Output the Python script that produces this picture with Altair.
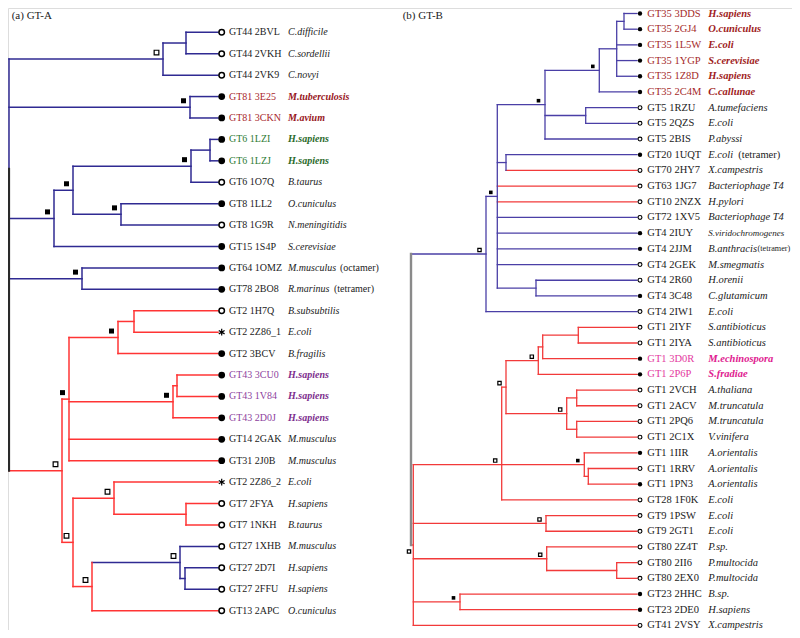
import altair as alt
import pandas as pd

# ---------------- data: panel (a) GT-A, leaves top to bottom ----------------
A_family = ["GT44", "GT44", "GT44", "GT81", "GT81", "GT6", "GT6", "GT6", "GT8", "GT8", "GT15", "GT64", "GT78",
            "GT2", "GT2", "GT2", "GT43", "GT43", "GT43", "GT14", "GT31", "GT2", "GT7", "GT7", "GT27", "GT27",
            "GT27", "GT13"]
A_pdb = ["2BVL", "2VKH", "2VK9", "3E25", "3CKN", "1LZI", "1LZJ", "1O7Q", "1LL2", "1G9R", "1S4P", "1OMZ", "2BO8",
         "1H7Q", "2Z86_1", "3BCV", "3CU0", "1V84", "2D0J", "2GAK", "2J0B", "2Z86_2", "2FYA", "1NKH", "1XHB",
         "2D7I", "2FFU", "2APC"]
A_species = ["C.difficile", "C.sordellii", "C.novyi", "M.tuberculosis", "M.avium", "H.sapiens", "H.sapiens",
             "B.taurus", "O.cuniculus", "N.meningitidis", "S.cerevisiae", "M.musculus", "R.marinus",
             "B.subsubtilis", "E.coli", "B.fragilis", "H.sapiens", "H.sapiens", "H.sapiens", "M.musculus",
             "M.musculus", "E.coli", "H.sapiens", "B.taurus", "M.musculus", "H.sapiens", "H.sapiens", "O.cuniculus"]
A_note = [""] * 11 + ["(octamer)", "(tetramer)"] + [""] * 15
A_tip = ["o", "o", "o", "f", "f", "f", "f", "o", "f", "o", "f", "f", "f", "o", "*", "f", "f", "f", "f", "f", "f",
         "*", "o", "o", "o", "o", "o", "o"]
A_hl = ["", "", "", "red", "red", "green", "green", "", "", "", "", "", "", "", "", "", "purple", "purple",
        "purple", "", "", "", "", "", "", "", "", ""]
A_branch = ["b"] * 13 + ["r"] * 11 + ["b"] * 3 + ["r"]

# ---------------- data: panel (b) GT-B ----------------
B_family = ["GT35"] * 6 + ["GT5"] * 3 + ["GT20", "GT70", "GT63", "GT10", "GT72"] + ["GT4"] * 6 + ["GT1"] * 11 + \
           ["GT28", "GT9", "GT9", "GT80", "GT80", "GT80", "GT23", "GT23", "GT41"]
B_pdb = ["3DDS", "2GJ4", "1L5W", "1YGP", "1Z8D", "2C4M", "1RZU", "2QZS", "2BIS", "1UQT", "2HY7", "1JG7", "2NZX",
         "1XV5", "2IUY", "2JJM", "2GEK", "2R60", "3C48", "2IW1", "2IYF", "2IYA", "3D0R", "2P6P", "2VCH", "2ACV",
         "2PQ6", "2C1X", "1IIR", "1RRV", "1PN3", "1F0K", "1PSW", "2GT1", "2Z4T", "2II6", "2EX0", "2HHC", "2DE0",
         "2VSY"]
B_species = ["H.sapiens", "O.cuniculus", "E.coli", "S.cerevisiae", "H.sapiens", "C.callunae", "A.tumefaciens",
             "E.coli", "P.abyssi", "E.coli", "X.campestris", "Bacteriophage T4", "H.pylori", "Bacteriophage T4",
             "S.viridochromogenes", "B.anthracis", "M.smegmatis", "H.orenii", "C.glutamicum", "E.coli",
             "S.antibioticus", "S.antibioticus", "M.echinospora", "S.fradiae", "A.thaliana", "M.truncatula",
             "M.truncatula", "V.vinifera", "A.orientalis", "A.orientalis", "A.orientalis", "E.coli", "E.coli",
             "E.coli", "P.sp.", "P.multocida", "P.multocida", "B.sp.", "H.sapiens", "X.campestris"]
B_note = [""] * 9 + ["(tetramer)"] + [""] * 5 + ["(tetramer)"] + [""] * 24
B_tip = ["f"] * 6 + ["o"] * 3 + ["f", "o", "o", "o", "o", "f", "f", "o", "o", "f", "o", "o", "o", "f", "f",
                                  "o", "o", "o", "o", "f", "o", "f", "o", "o", "o", "o", "o", "o", "f", "f", "o"]
B_hl = ["darkred"] * 6 + [""] * 16 + ["magenta", "magenta"] + [""] * 16
B_branch = ["b"] * 10 + ["r"] * 3 + ["b"] * 7 + ["r"] * 20


# ---------------- tree topology with branch positions ----------------
def N(x, c, m, kids, mid=None, moff=None):
    return dict(x=x, c=c, m=m, kids=kids, mid=mid, moff=moff)


A_tree = N(9, "root", None, [
    N(9, "b", None, [
        N(163, "b", "o", [N(186, "b", None, [0, 1]), 2]),
        N(190, "b", "f", [3, 4]),
        N(54, "b", "f", [
            N(73, "b", "f", [
                N(191, "b", "f", [N(210, "b", None, [5, 6]), 7]),
                N(121, "b", "f", [8, 9])]),
            10]),
        N(82, "b", "f", [11, 12])]),
    N(62, "r", "o", [
        N(69, "r", "f", [
            N(118, "r", "f", [N(134, "r", None, [13, 14]), 15]),
            N(173, "r", "f", [N(177, "r", None, [16, 17]), 18]),
            19, 20]),
        N(73, "r", "o", [
            N(114, "r", "o", [21, N(186, "r", None, [22, 23])]),
            N(92, "r", "o", [
                N(180, "b", "o", [24, N(185, "b", None, [25, 26])]),
                27])])])
])

B_tree = N(411, "root", None, [
    N(486, "b", "o", [
        N(497.3, "b", "f", [
            N(545, "b", "f", [
                N(599.3, "b", "f", [N(616.7, "b", None, [N(624, "b", None, [0, 1]), 2, 3, 4]), 5]),
                N(585.7, "b", None, [6, 7]),
                8]),
            N(506, "b", None, [9, 10]),
            11, 12, 13, 14, 15, 16,
            N(536, "b", None, [17, 18])]),
        19]),
    N(413.3, "r", "o", [
        N(501.7, "r", "o", [
            N(506, "r", "o", [
                N(538.3, "r", "o", [N(542.7, "r", None, [N(578.3, "r", None, [20, 21]), 22]), 23]),
                N(566.7, "r", "o", [N(576.7, "r", None, [24, 25]), N(576.7, "r", None, [26, 27])])]),
            N(584.3, "r", "f", [28, N(588.3, "r", None, [29, 30])]),
            31], mid=1),
        N(546, "r", "o", [32, 33]),
        N(546.7, "r", "o", [34, N(616.7, "r", None, [35, 36])]),
        N(460, "r", "f", [37, 38]),
        39], moff=(-4.3, 6.5))
])

# ---------------- layout / style ----------------
FONT = "Liberation Serif"
PANELS = {
    "A": dict(tree=A_tree, fam=A_family, pdb=A_pdb, sp=A_species, note=A_note, tip=A_tip, hl=A_hl,
              branch=A_branch, y0=32.3, step=21.42, tipx=218, markx=221.7, labx=229, spx=288, fs=10,
              col={"b": "#2f2a92", "r": "#ff3434", "root": "#2a2a2a"},
              sw={"b": 1.5, "r": 1.5, "root": 2.2}, ring=1.5,
              moff=(-6.5, -6.5), nsq=(25, 22), circ=(46, 30),
              note_x={11: 340, 12: 334}, note_fs={11: 10, 12: 10}, sp_fs={}),
    "B": dict(tree=B_tree, fam=B_family, pdb=B_pdb, sp=B_species, note=B_note, tip=B_tip, hl=B_hl,
              branch=B_branch, y0=13.5, step=15.69, tipx=637, markx=640, labx=647.3, spx=708.3, fs=10.5,
              col={"b": "#4a3fa6", "r": "#f23a3a", "root": "#8a8a8a"},
              sw={"b": 1.3, "r": 1.3, "root": 2.4}, ring=1.1,
              moff=(-6.5, -4), nsq=(13, 11), circ=(19, 15),
              note_x={9: 738.3, 15: 757.5}, note_fs={9: 10.5, 15: 8.2}, sp_fs={14: 9}),
}
LABEL_COL = {"": "#222222", "red": "#a8262b", "green": "#2e7b32", "purple": "#8e3f9e",
             "darkred": "#a52a2a", "magenta": "#e43aa0"}
SPEC_COL = {"": "#222222", "red": "#98161c", "green": "#2a6a2a", "purple": "#7d2d8d",
            "darkred": "#a01c1c", "magenta": "#e0208f"}

segs, nodes, leaves = [], [], []
for key, P in PANELS.items():
    def rec(n):
        if isinstance(n, int):
            c = P["branch"][n]
            return P["tipx"], P["y0"] + P["step"] * n, c
        ks = [rec(k) for k in n["kids"]]
        ys = [k[1] for k in ks]
        y = ks[n["mid"]][1] if n["mid"] is not None else (ys[0] + ys[-1]) / 2
        for kx, ky, kc in ks:
            segs.append(dict(x=n["x"], x2=kx, y=ky, y2=ky, col=P["col"][kc], sw=P["sw"][kc]))
        segs.append(dict(x=n["x"], x2=n["x"], y=ys[0], y2=ys[-1], col=P["col"][n["c"]], sw=P["sw"][n["c"]]))
        if n["m"]:
            dx, dy = n["moff"] if n["moff"] else P["moff"]
            nodes.append(dict(x=n["x"] + dx, y=y + dy, kind=n["m"],
                              sz=P["nsq"][0] if n["m"] == "f" else P["nsq"][1]))
        return n["x"], y, n["c"]

    rec(P["tree"])
    for i in range(len(P["pdb"])):
        hl = P["hl"][i]
        leaves.append(dict(
            y=P["y0"] + P["step"] * i, mx=P["markx"], tip=P["tip"][i], ring=P["ring"],
            msz=P["circ"][0] if P["tip"][i] == "f" else P["circ"][1],
            lx=P["labx"], label=f'{P["fam"][i]} {P["pdb"][i]}', lcol=LABEL_COL[hl],
            sx=P["spx"], species=P["sp"][i], scol=SPEC_COL[hl], bold=hl != "",
            sfs=P["sp_fs"].get(i, P["fs"]),
            note=P["note"][i], nx=P["note_x"].get(i, 0), nfs=P["note_fs"].get(i, P["fs"]), fs=P["fs"]))

seg_df = pd.DataFrame(segs)
node_df = pd.DataFrame(nodes)
leaf_df = pd.DataFrame(leaves)
title_df = pd.DataFrame(dict(x=[11.7, 402.7], y=[16, 16], t=["(a) GT-A", "(b) GT-B"]))

XS = alt.Scale(domain=[8, 792], nice=False, zero=False)
YS = alt.Scale(domain=[8, 630], nice=False, zero=False, reverse=True)


def X(f):
    return alt.X(f"{f}:Q", scale=XS, axis=None)


def Y(f):
    return alt.Y(f"{f}:Q", scale=YS, axis=None)


branches = alt.Chart(seg_df).mark_rule(strokeCap="square").encode(
    x=X("x"), x2="x2", y=Y("y"), y2="y2",
    color=alt.Color("col:N", scale=None),
    strokeWidth=alt.StrokeWidth("sw:Q", scale=None))

node_f = alt.Chart(node_df).transform_filter("datum.kind == 'f'").mark_point(
    shape="square", filled=True, color="black", opacity=1).encode(
    x=X("x"), y=Y("y"), size=alt.Size("sz:Q", scale=None))
node_o = alt.Chart(node_df).transform_filter("datum.kind == 'o'").mark_point(
    shape="square", filled=True, fill="white", stroke="black", strokeWidth=1.2, opacity=1).encode(
    x=X("x"), y=Y("y"), size=alt.Size("sz:Q", scale=None))

tip_f = alt.Chart(leaf_df).transform_filter("datum.tip == 'f'").mark_point(
    shape="circle", filled=True, color="black", opacity=1).encode(
    x=X("mx"), y=Y("y"), size=alt.Size("msz:Q", scale=None))
tip_o = alt.Chart(leaf_df).transform_filter("datum.tip == 'o'").mark_point(
    shape="circle", filled=True, fill="white", stroke="black", opacity=1).encode(
    x=X("mx"), y=Y("y"), size=alt.Size("msz:Q", scale=None),
    strokeWidth=alt.StrokeWidth("ring:Q", scale=None))
tip_s = alt.Chart(leaf_df).transform_filter("datum.tip == '*'").mark_point(
    shape="M0,-1L0,1M-0.866,-0.5L0.866,0.5M-0.866,0.5L0.866,-0.5", filled=False,
    stroke="black", strokeWidth=1.2, opacity=1, size=45).encode(x=X("mx"), y=Y("y"))

labels = alt.Chart(leaf_df).mark_text(align="left", baseline="middle", font=FONT).encode(
    x=X("lx"), y=Y("y"), text="label:N", color=alt.Color("lcol:N", scale=None),
    size=alt.Size("fs:Q", scale=None))
spec_n = alt.Chart(leaf_df).transform_filter("!datum.bold").mark_text(
    align="left", baseline="middle", font=FONT, fontStyle="italic").encode(
    x=X("sx"), y=Y("y"), text="species:N", color=alt.Color("scol:N", scale=None),
    size=alt.Size("sfs:Q", scale=None))
spec_b = alt.Chart(leaf_df).transform_filter("datum.bold").mark_text(
    align="left", baseline="middle", font=FONT, fontStyle="italic", fontWeight="bold").encode(
    x=X("sx"), y=Y("y"), text="species:N", color=alt.Color("scol:N", scale=None),
    size=alt.Size("sfs:Q", scale=None))
notes = alt.Chart(leaf_df).transform_filter("datum.note != ''").mark_text(
    align="left", baseline="middle", font=FONT, color="#222222").encode(
    x=X("nx"), y=Y("y"), text="note:N", size=alt.Size("nfs:Q", scale=None))
titles = alt.Chart(title_df).mark_text(align="left", baseline="middle", font=FONT, fontSize=11,
                                       color="#222222").encode(x=X("x"), y=Y("y"), text="t:N")

chart = alt.layer(branches, node_f, node_o, tip_f, tip_o, tip_s, labels, spec_n, spec_b, notes, titles).properties(
    width=784, height=622, autosize=alt.AutoSizeParams(type="none"), padding=0
).configure_view(stroke=None).configure(background="white")

chart.save("out.html", embed_options={"renderer": "svg", "actions": False})
